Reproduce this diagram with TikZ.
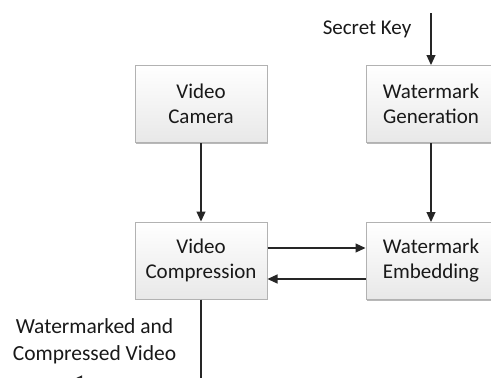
\documentclass[tikz,border=0pt]{standalone}
\usepackage{fontspec}
\setmainfont{Carlito}
\usetikzlibrary{arrows.meta,shadows}

\tikzset{
  block/.style={rectangle, draw=gray!60, line width=1pt,
    top color=white, bottom color=gray!18,
    minimum height=77pt, align=center, inner sep=2pt,
    font=\fontsize{21}{25}\selectfont, text=black!90,
    drop shadow={shadow xshift=1pt, shadow yshift=-1pt, fill=gray!70, opacity=0.8}},
  link/.style={line width=1.2pt, draw=black!85,
    -{Triangle[length=10pt,width=9pt]}},
  caption/.style={align=center, inner sep=0pt, text=black!90,
    font=\fontsize{21.5}{27}\selectfont}
}

\begin{document}
\begin{tikzpicture}[x=1pt,y=-1pt]
  \useasboundingbox (0,0) rectangle (491,378);
  \clip (0,0) rectangle (491,378);

  % processing blocks
  \node[block, minimum width=132pt] (cam)  at (201,104)   {Video\\Camera};
  \node[block, minimum width=130pt] (gen)  at (431,104)   {Watermark\\Generation};
  \node[block, minimum width=132pt] (comp) at (201,260.5) {Video\\Compression};
  \node[block, minimum width=130pt] (emb)  at (431,261)   {Watermark\\Embedding};

  % key input
  \node[caption, font=\fontsize{21}{25}\selectfont] (key) at (367,29) {Secret Key};
  \coordinate (keytop) at (431,13);

  % output
  \node[caption] (out) at (94.5,341) {Watermarked and\\Compressed Video};
  \coordinate (outend) at (72,380);

  % connectors
  \draw[link] (keytop) -- (gen.north);
  \draw[link] (cam.south) -- (comp.north);
  \draw[link] (gen.south) -- (emb.north);
  \draw[link] (comp.east |- 0,248) -- (emb.west |- 0,248);
  \draw[link] (emb.west |- 0,279) -- (comp.east |- 0,279);
  \draw[link] (comp.south) |- (outend);
\end{tikzpicture}
\end{document}
